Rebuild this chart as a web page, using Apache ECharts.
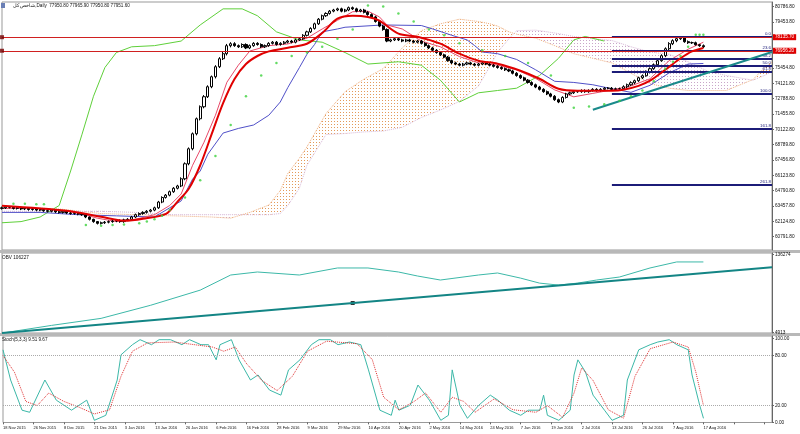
<!DOCTYPE html>
<html>
<head>
<meta charset="utf-8">
<script src="https://cdn.jsdelivr.net/npm/echarts@6/dist/echarts.min.js"></script>
<style>
html, body { margin: 0; padding: 0; background: #fff; }
#chart { width: 800px; height: 434px; }
</style>
</head>
<body>
<div id="chart"></div>
<script>
// bar index -> date label every 8 bars
const dateLabels = ['18 Nov 2015', '26 Nov 2015', '8 Dec 2015', '21 Dec 2015', '3 Jan 2016', '13 Jan 2016',
  '26 Jan 2016', '6 Feb 2016', '16 Feb 2016', '28 Feb 2016', '9 Mar 2016', '29 Mar 2016', '10 Apr 2016',
  '20 Apr 2016', '2 May 2016', '14 May 2016', '24 May 2016', '7 Jun 2016', '19 Jun 2016', '2 Jul 2016',
  '13 Jul 2016', '26 Jul 2016', '7 Aug 2016', '17 Aug 2016']
const priceTicks = [80786.8, 79453.8, 78120.8, 76787.8, 75454.8, 74121.8, 72788.8, 71455.8, 70122.8,
  68789.8, 67456.8, 66123.8, 64790.8, 63457.8, 62124.8, 60791.8]
const obvTicks = [136274, 4913]
const stochTicks = [100, 80, 20, 0]

// daily bars: open, close, low, high
const candles = [
  [63250, 63300, 63150, 63400], [63300, 63400, 63200, 63500], [63400, 63350, 63250, 63450], [63350, 63250, 63150, 63450],
  [63250, 63300, 63150, 63400], [63300, 63200, 63100, 63350], [63200, 63250, 63100, 63350], [63250, 63150, 63050, 63300],
  [63150, 63200, 63050, 63300], [63200, 63100, 63000, 63250], [63100, 63150, 63000, 63250], [63150, 63050, 62950, 63200],
  [63050, 63000, 62900, 63150], [63000, 63100, 62900, 63200], [63100, 62950, 62850, 63150], [62950, 62900, 62800, 63050],
  [62900, 63000, 62800, 63100], [63000, 62850, 62750, 63050], [62850, 62800, 62700, 62950], [62800, 62900, 62700, 63000],
  [62900, 62750, 62650, 62950], [62750, 62700, 62600, 62850], [62700, 62500, 62400, 62750], [62500, 62300, 62200, 62550],
  [62300, 62100, 62000, 62350], [62100, 61950, 61850, 62150], [61950, 62000, 61850, 62100], [62000, 62050, 61900, 62150],
  [62050, 62100, 61950, 62200], [62100, 62150, 62000, 62250], [62150, 62200, 62050, 62300], [62200, 62100, 62000, 62300],
  [62100, 62250, 62000, 62350], [62250, 62300, 62150, 62400], [62300, 62500, 62200, 62600], [62500, 62700, 62400, 62800],
  [62700, 62800, 62600, 62900], [62800, 62900, 62700, 63000], [62900, 63000, 62800, 63100], [63000, 63100, 62900, 63200],
  [63100, 63300, 63000, 63400], [63300, 63800, 63200, 63900], [63800, 64200, 63700, 64300], [64200, 64400, 64100, 64500],
  [64400, 64700, 64300, 64800], [64700, 65000, 64600, 65100], [65000, 65200, 64900, 65300], [65200, 65823, 65100, 65950],
  [65823, 67128, 65700, 67250], [67128, 68433, 67000, 68550], [68433, 69738, 68300, 69850], [69738, 71043, 69600, 71150],
  [71043, 72087, 70900, 72200], [72087, 72957, 71950, 73100], [72957, 73827, 72850, 73950], [73827, 74697, 73700, 74800],
  [74697, 75567, 74550, 75700], [75567, 76263, 75450, 76400], [76263, 76698, 76150, 76850], [76698, 77394, 76550, 77550],
  [77394, 77568, 77250, 77700], [77568, 77400, 77300, 77700], [77400, 77300, 77200, 77500], [77300, 77500, 77200, 77600],
  [77500, 77200, 77100, 77600], [77200, 77400, 77100, 77500], [77400, 77600, 77300, 77700], [77600, 77500, 77400, 77700],
  [77500, 77300, 77200, 77600], [77300, 77400, 77200, 77500], [77400, 77600, 77300, 77700], [77600, 77700, 77500, 77800],
  [77700, 77500, 77400, 77800], [77500, 77600, 77400, 77700], [77600, 77700, 77500, 77800], [77700, 77800, 77600, 77900],
  [77800, 77700, 77600, 77900], [77700, 77900, 77600, 78000], [77900, 78000, 77800, 78100], [78000, 78300, 77900, 78400],
  [78300, 78600, 78200, 78700], [78600, 78900, 78500, 79000], [78900, 79300, 78800, 79400], [79300, 79700, 79200, 79800],
  [79700, 80000, 79600, 80100], [80000, 80200, 79900, 80300], [80200, 80400, 80100, 80500], [80400, 80500, 80300, 80600],
  [80500, 80600, 80400, 80700], [80600, 80400, 80300, 80700], [80400, 80500, 80300, 80600], [80500, 80700, 80400, 80800],
  [80700, 80600, 80500, 80800], [80600, 80400, 80300, 80700], [80400, 80500, 80300, 80600], [80500, 80300, 80200, 80600],
  [80300, 80100, 80000, 80400], [80100, 79900, 79800, 80200], [79900, 79500, 79400, 80000], [79500, 79100, 79000, 79600],
  [79100, 78800, 78700, 79200], [78800, 77800, 77700, 78900], [77800, 77900, 77700, 78000], [77900, 78000, 77800, 78100],
  [78000, 77900, 77800, 78100], [77900, 77800, 77700, 78000], [77800, 77900, 77700, 78000], [77900, 77800, 77700, 78000],
  [77800, 77700, 77600, 77900], [77700, 77800, 77600, 77900], [77800, 77600, 77500, 77900], [77600, 77400, 77300, 77700],
  [77400, 77200, 77100, 77500], [77200, 77000, 76900, 77300], [77000, 76800, 76700, 77100], [76800, 76600, 76500, 76900],
  [76600, 76400, 76300, 76700], [76400, 76100, 76000, 76500], [76100, 75900, 75800, 76200], [75900, 75800, 75700, 76000],
  [75800, 75700, 75600, 75900], [75700, 75800, 75600, 75900], [75800, 75900, 75700, 76000], [75900, 75800, 75700, 76000],
  [75800, 75700, 75600, 75900], [75700, 75800, 75600, 75900], [75800, 75900, 75700, 76000], [75900, 75800, 75700, 76000],
  [75800, 75700, 75600, 75900], [75700, 75600, 75500, 75800], [75600, 75500, 75400, 75700], [75500, 75400, 75300, 75600],
  [75400, 75300, 75200, 75500], [75300, 75200, 75100, 75400], [75200, 75000, 74900, 75300], [75000, 74800, 74700, 75100],
  [74800, 74600, 74500, 74900], [74600, 74400, 74300, 74700], [74400, 74200, 74100, 74500], [74200, 74000, 73900, 74300],
  [74000, 73800, 73700, 74100], [73800, 73600, 73500, 73900], [73600, 73400, 73300, 73700], [73400, 73200, 73100, 73500],
  [73200, 73000, 72900, 73300], [73000, 72700, 72600, 73100], [72700, 72500, 72400, 72800], [72500, 72900, 72400, 73000],
  [72900, 73200, 72800, 73300], [73200, 73300, 73100, 73400], [73300, 73400, 73200, 73500], [73400, 73400, 73300, 73500],
  [73400, 73500, 73300, 73600], [73500, 73400, 73300, 73600], [73400, 73500, 73300, 73600], [73500, 73600, 73400, 73700],
  [73600, 73500, 73400, 73700], [73500, 73600, 73400, 73700], [73600, 73700, 73500, 73800], [73700, 73700, 73600, 73800],
  [73700, 73600, 73500, 73800], [73600, 73650, 73500, 73750], [73650, 73653, 73550, 73750], [73653, 73827, 73550, 73950],
  [73827, 74000, 73700, 74100], [74000, 74175, 73900, 74300], [74175, 74350, 74050, 74450], [74350, 74610, 74250, 74700],
  [74610, 74784, 74500, 74900], [74784, 75130, 74700, 75250], [75130, 75393, 75000, 75500], [75393, 75740, 75300, 75850],
  [75740, 76090, 75650, 76200], [76090, 76527, 76000, 76650], [76527, 77133, 76400, 77250], [77133, 77568, 77000, 77700],
  [77568, 77830, 77450, 77950], [77830, 78003, 77700, 78100], [78003, 78090, 77900, 78200], [78090, 77743, 77650, 78150],
  [77743, 77655, 77550, 77850], [77655, 77655, 77550, 77750], [77655, 77480, 77400, 77750], [77480, 77394, 77300, 77550],
  [77394, 77307, 77200, 77500]
]

const maLine = [[0, 63474], [17, 63039], [26, 62517], [32, 62169], [37, 62343], [43, 62778], [46, 63822],
  [49, 64953], [52, 67000], [55, 69700], [58, 72400], [61, 74500], [64, 75800], [67, 76500], [70, 76900],
  [75, 77220], [80, 77568], [84, 78500], [88, 79740], [92, 80000], [96, 79900], [99, 79570],
  [104, 78440], [109, 78180], [115, 77570], [120, 76700], [125, 76090], [130, 75830], [136, 75220], [141, 74520],
  [146, 73650], [151, 73480], [156, 73480], [160, 73480], [163, 73560], [167, 73900], [170, 74350],
  [174, 75300], [178, 76300], [181, 76900], [184, 77200]]
const tenkanLine = [[0, 63250], [10, 63250], [15, 63100], [20, 62850], [25, 62400], [30, 62100], [35, 62300],
  [40, 62700], [44, 63500], [47, 64500], [50, 67000], [53, 69000], [56, 71350], [59, 74220], [62, 75700],
  [65, 76930], [70, 77400], [75, 77550], [80, 78050], [84, 78850], [88, 79600], [92, 80350], [96, 80400],
  [99, 79900], [101, 79200], [105, 78850], [110, 77800], [115, 77300], [120, 76450], [125, 75900], [130, 75700],
  [135, 75300], [140, 74550], [145, 73550], [150, 72950], [155, 73250], [160, 73550], [165, 73900],
  [170, 74520], [175, 76090], [180, 77090], [184, 77700]]
const kijunLine = [[0, 62900], [10, 62900], [20, 62700], [30, 62600], [40, 62500], [44, 63300], [47, 63900],
  [50, 65800], [52, 66500], [54, 67960], [58, 69800], [62, 70200], [66, 70500], [70, 71350], [73, 72500],
  [75, 73770], [78, 75480], [80, 76650], [82, 77500], [84, 78600], [88, 78850], [90, 79000], [100, 79200],
  [110, 79150], [113, 78850], [118, 78300], [122, 77900], [124, 77400], [126, 76850], [130, 76700],
  [135, 76200], [140, 75300], [145, 74300], [150, 74200], [155, 74000], [160, 73650], [165, 73340],
  [170, 73950], [175, 75030], [180, 75800], [184, 75850]]
const chikouLine = [[0, 62000], [5, 62100], [10, 62500], [15, 63500], [18, 66500], [21, 69700], [24, 73000],
  [27, 75500], [30, 76800], [34, 77300], [40, 77400], [47, 77800], [52, 79200], [58, 80600], [63, 80600],
  [67, 80000], [72, 78600], [78, 77900], [84, 77700], [90, 76800], [96, 75800], [104, 76000], [110, 75700],
  [115, 74400], [120, 72500], [125, 73300], [130, 73500], [135, 73700], [141, 74800], [146, 76300],
  [150, 77900], [153, 78200], [158, 77800]]
const sarDots = [[3, 63650], [6, 63650], [9, 63600], [11, 63600], [22, 61800], [26, 61750], [29, 61800],
  [32, 61850], [36, 61950], [38, 62100], [40, 62300], [42, 62600], [44, 63100], [48, 64200], [52, 65700],
  [56, 67800], [60, 70500], [64, 73000], [68, 74800], [72, 75900], [76, 76500], [80, 76800], [84, 77300],
  [88, 78000], [92, 78800], [96, 80900], [100, 80800], [104, 80200], [108, 79500], [112, 78800], [116, 78300],
  [120, 77600], [126, 77000], [132, 76500], [138, 75900], [144, 74800], [150, 72000], [154, 72100],
  [158, 72300], [162, 72600], [165, 73000], [168, 73500], [171, 74300], [174, 75400], [176, 76000],
  [178, 76500], [180, 77300], [182, 78350], [183, 78350], [184, 78350]]

// cloud edges, shared bar positions
const cloudBars = [0, 15, 26, 35, 45, 55, 60, 65, 70, 73, 75, 78, 80, 85, 90, 95, 100, 105, 110, 115, 120,
  125, 128, 130, 133, 135, 140, 145, 150, 155, 160, 165, 170, 175, 180, 185, 190, 197, 200, 202]
const spanA = [63400, 63200, 62800, 62700, 62600, 62500, 62400, 62900, 63540, 64800, 66300, 67600, 68600,
  71500, 73400, 74500, 75400, 77200, 78700, 79300, 79700, 79500, 79300, 79100, 78600, 78400, 78050, 77400,
  76700, 76300, 75900, 75000, 74100, 73700, 73500, 73500, 73500, 74450, 75470, 75950]
const spanB = [63000, 63000, 63000, 62900, 62700, 62700, 62700, 62700, 62700, 62800, 63500, 65000, 67000,
  69670, 69760, 69900, 69975, 70300, 71150, 71800, 72550, 73900, 75600, 76830, 78000, 78700, 78750, 78500,
  78200, 78000, 77850, 77300, 76850, 76650, 76000, 75200, 74800, 74400, 74800, 75165]

const obvLine = [[0, 3500], [13, 16600], [26, 28500], [39, 50700], [52, 76300], [60, 101900], [67, 107000], [78, 101900],
  [88, 113800], [96, 113800], [104, 107000], [109, 100200], [115, 93400], [125, 101900], [130, 105300], [136, 96700],
  [141, 88200], [146, 84800], [151, 88200], [156, 93400], [162, 98500], [170, 113800], [177, 124000], [184, 124000]]
const obvTrend = [[0, 3728], [202, 114945]]
const obvAnchor = [[92, 54513]]

const stochK = [[0, 86.7], [2, 50.6], [5, 14.5], [7, 12.0], [11, 50.6], [14, 26.5], [18, 14.5], [22, 26.5], [24, 2.4],
  [27, 8.4], [30, 50.6], [31, 80.7], [34, 92.8], [36, 98.8], [39, 92.8], [41, 98.8], [44, 98.8], [47, 92.8], [49, 98.8],
  [52, 92.8], [54, 92.8], [56, 74.7], [57, 92.8], [60, 98.8], [62, 74.7], [65, 50.6], [67, 56.6], [70, 38.6], [73, 32.5],
  [75, 62.7], [78, 74.7], [81, 92.8], [83, 98.8], [86, 98.8], [88, 92.8], [91, 96.0], [94, 92.8], [96, 62.7], [99, 14.5],
  [102, 8.4], [103, 26.5], [104, 14.5], [107, 20.5], [109, 44.6], [112, 26.5], [115, 2.4], [117, 8.4], [118, 62.7],
  [120, 20.5], [122, 4.8], [125, 20.5], [128, 32.5], [130, 26.5], [133, 14.5], [136, 8.4], [138, 14.5], [141, 14.5],
  [142, 32.5], [143, 8.4], [146, 2.4], [149, 14.5], [150, 56.6], [151, 74.7], [153, 60.2], [155, 32.5], [158, 14.5],
  [160, 2.4], [163, 8.4], [164, 50.6], [167, 86.7], [170, 92.8], [172, 96.0], [175, 98.8], [177, 92.8], [180, 86.7],
  [181, 56.6], [183, 20.5], [184, 4.8]]
const stochD = [[0, 80], [3, 60], [6, 25], [9, 20], [12, 35], [16, 25], [20, 18], [24, 10], [28, 15], [31, 55],
  [34, 85], [38, 95], [45, 96], [55, 90], [58, 85], [61, 90], [64, 70], [68, 50], [72, 38], [76, 55], [80, 85],
  [85, 97], [93, 94], [97, 75], [100, 30], [104, 15], [108, 25], [111, 35], [115, 12], [118, 30], [121, 25],
  [124, 12], [129, 28], [134, 15], [140, 12], [143, 20], [147, 6], [150, 35], [152, 65], [155, 50], [159, 15],
  [163, 5], [166, 55], [170, 88], [176, 96], [180, 90], [182, 60], [184, 20]]

// MT4 drawn objects
const redLevels = [78135.7, 76956.2]
const fibRatios = ['0.0', '23.6', '38.2', '50.0', '61.8', '100.0', '161.8', '261.8']
const fibPrices = [78143.5, 76987, 76265, 75683, 75109, 73231, 70196, 65284]
const fibStart = 160
const priceTrend = [[155, 71822], [202, 76848]]

const N = 203
const cats = Array.from({ length: N }, (_, i) => String(i))

function dotPattern(color) {
  const cv = document.createElement('canvas')
  cv.width = 3
  cv.height = 3
  const ctx = cv.getContext('2d')
  ctx.fillStyle = color
  ctx.fillRect(1, 1, 1, 1)
  return { image: cv, repeat: 'repeat' }
}

// polygon between span A and span B for bars in [from, to]
function cloudPolygon(api, from, to) {
  const idx = cloudBars.map((b, k) => k).filter(k => cloudBars[k] >= from && cloudBars[k] <= to)
  const top = idx.map(k => api.coord([cloudBars[k], spanA[k]]))
  const bot = idx.slice().reverse().map(k => api.coord([cloudBars[k], spanB[k]]))
  return top.concat(bot)
}

const chart = echarts.init(document.getElementById('chart'), null, { renderer: 'canvas' })

const axisFont = { fontFamily: 'Liberation Sans', fontSize: 4.7, color: '#111' }

function catAxis(gridIndex, showLabels) {
  return {
    type: 'category', gridIndex, data: cats, boundaryGap: false,
    axisLine: { show: false },
    axisTick: showLabels ? { show: true, interval: 7, length: 2, lineStyle: { color: '#666' } } : { show: false },
    splitLine: { show: false },
    axisLabel: showLabels ? {
      ...axisFont, fontSize: 4, interval: 7, align: 'left', margin: 3, showMinLabel: true, hideOverlap: false,
      formatter: (v, idx) => dateLabels[idx / 8] || ''
    } : { show: false }
  }
}

function valAxis(gridIndex, min, max, ticks, fmt) {
  return {
    type: 'value', gridIndex, position: 'right', min, max, scale: true,
    axisLine: { show: true, lineStyle: { color: '#666' } },
    axisTick: { show: true, customValues: ticks, length: 2, lineStyle: { color: '#666' } },
    axisLabel: { ...axisFont, customValues: ticks, margin: 3, formatter: fmt },
    splitLine: { show: false }
  }
}

const fibLines = fibPrices.map((p, k) => [
  { coord: [fibStart, p], label: { formatter: fibRatios[k] } },
  { coord: [N - 1, p] }
])

const option = {
  animation: false,
  backgroundColor: '#fff',
  grid: [
    { left: 2, right: 28, top: 2, height: 248, show: true, borderColor: '#999', borderWidth: 1 },
    { left: 2, right: 28, top: 253, height: 80, show: true, borderColor: '#999', borderWidth: 1 },
    { left: 2, right: 28, top: 336, height: 86.5, show: true, borderColor: '#999', borderWidth: 1 }
  ],
  xAxis: [catAxis(0, false), catAxis(1, false), catAxis(2, true)],
  yAxis: [
    valAxis(0, 59631, 81195.5, priceTicks, v => v.toFixed(2)),
    valAxis(1, 3728, 139152, obvTicks, v => String(v)),
    valAxis(2, -0.2, 103.2, stochTicks, v => v.toFixed(2))
  ],
  graphic: [
    { type: 'rect', shape: { x: 0, y: 250, width: 800, height: 3 }, style: { fill: '#b8b8b8' }, silent: true },
    { type: 'rect', shape: { x: 0, y: 333, width: 800, height: 3 }, style: { fill: '#b8b8b8' }, silent: true },
    { type: 'rect', shape: { x: 1, y: 3, width: 4, height: 5 }, style: { fill: '#6a7fb5' } },
    { type: 'text', left: 13, top: 3.5, style: { text: 'شاخص کل,Daily  77950.80 77965.90 77950.80 77951.60', font: '4.6px Liberation Sans', fill: '#111' } },
    { type: 'text', left: 2, top: 255, style: { text: 'OBV 106227', font: '4.7px Liberation Sans', fill: '#111' } },
    { type: 'text', left: 2, top: 337.5, style: { text: 'Stoch(5,3,3) 9.51 9.67', font: '4.6px Liberation Sans', fill: '#111' } }
  ],
  series: [
    {
      type: 'custom', xAxisIndex: 0, yAxisIndex: 0, z: 1, silent: true,
      data: [0],
      renderItem: (params, api) => ({
        type: 'group',
        children: [
          { type: 'polygon', shape: { points: cloudPolygon(api, 0, 60) }, style: { fill: dotPattern('#c9a6c9') } },
          { type: 'polygon', shape: { points: cloudPolygon(api, 60, 135) }, style: { fill: dotPattern('#e39a5a') } },
          { type: 'polygon', shape: { points: cloudPolygon(api, 135, 197) }, style: { fill: dotPattern('#c9a6c9') } },
          { type: 'polygon', shape: { points: cloudPolygon(api, 197, 202) }, style: { fill: dotPattern('#e39a5a') } }
        ]
      })
    },
    {
      type: 'line', data: cloudBars.map((b, k) => [b, spanA[k]]), xAxisIndex: 0, yAxisIndex: 0, symbol: 'none', z: 2,
      lineStyle: { color: '#f0b080', width: 1, type: 'dotted' }
    },
    {
      type: 'line', data: cloudBars.map((b, k) => [b, spanB[k]]), xAxisIndex: 0, yAxisIndex: 0, symbol: 'none', z: 2,
      lineStyle: { color: '#d8b8d8', width: 1, type: 'dotted' }
    },
    {
      type: 'line', data: chikouLine, xAxisIndex: 0, yAxisIndex: 0, symbol: 'none', z: 3,
      lineStyle: { color: '#5fd03a', width: 1 }
    },
    {
      type: 'line', data: kijunLine, xAxisIndex: 0, yAxisIndex: 0, symbol: 'none', z: 3,
      lineStyle: { color: '#5050c8', width: 1 }
    },
    {
      type: 'line', data: tenkanLine, xAxisIndex: 0, yAxisIndex: 0, symbol: 'none', z: 3,
      lineStyle: { color: '#e84a6a', width: 1 }
    },
    {
      type: 'candlestick', data: candles, xAxisIndex: 0, yAxisIndex: 0, barWidth: 2.6, z: 4,
      itemStyle: { color: '#fff', color0: '#000', borderColor: '#000', borderColor0: '#000', borderWidth: 1 }
    },
    {
      type: 'line', data: maLine, xAxisIndex: 0, yAxisIndex: 0, symbol: 'none', smooth: 0.3, z: 5,
      lineStyle: { color: '#e00000', width: 2 }
    },
    {
      type: 'scatter', data: sarDots, xAxisIndex: 0, yAxisIndex: 0, symbolSize: 2.5, z: 6,
      itemStyle: { color: '#3cd23c' }
    },
    {
      type: 'line', data: priceTrend, xAxisIndex: 0, yAxisIndex: 0, symbol: 'none', z: 6,
      lineStyle: { color: '#1a8a8a', width: 2 },
      markLine: {
        silent: true, symbol: 'none', animation: false,
        lineStyle: { color: '#1c1c78', width: 2, type: 'solid' },
        label: { position: 'insideEndTop', fontSize: 4.4, fontFamily: 'Liberation Sans', color: '#1c1c78', distance: 1 },
        data: fibLines
      }
    },
    {
      type: 'scatter', data: redLevels.map(v => [0, v]), xAxisIndex: 0, yAxisIndex: 0, z: 8,
      symbol: 'rect', symbolSize: 4, itemStyle: { color: '#700' },
      markLine: {
        silent: true, symbol: 'none', animation: false,
        lineStyle: { color: '#d02020', width: 1.2, type: 'solid' },
        label: {
          position: 'end', distance: 1, fontSize: 4.6, fontFamily: 'Liberation Sans', color: '#fff',
          backgroundColor: '#e00000', padding: [0.5, 2],
          formatter: p => p.value.toFixed(2)
        },
        data: redLevels.map(v => ({ yAxis: v }))
      }
    },
    {
      type: 'line', data: obvLine, xAxisIndex: 1, yAxisIndex: 1, symbol: 'none',
      lineStyle: { color: '#3cb8a8', width: 1 }
    },
    {
      type: 'line', data: obvTrend, xAxisIndex: 1, yAxisIndex: 1, symbol: 'none',
      lineStyle: { color: '#138585', width: 2 }
    },
    {
      type: 'scatter', data: obvAnchor, xAxisIndex: 1, yAxisIndex: 1, symbol: 'rect', symbolSize: 4,
      itemStyle: { color: '#000' }
    },
    {
      type: 'line', data: stochK, xAxisIndex: 2, yAxisIndex: 2, symbol: 'none',
      lineStyle: { color: '#3cb8a8', width: 1 },
      markLine: {
        silent: true, symbol: 'none', label: { show: false },
        lineStyle: { color: '#aaa', width: 1, type: 'dotted' },
        data: [{ yAxis: 80 }, { yAxis: 20 }]
      }
    },
    {
      type: 'line', data: stochD, xAxisIndex: 2, yAxisIndex: 2, symbol: 'none',
      lineStyle: { color: '#e03030', width: 1, type: 'dotted' }
    }
  ]
}

chart.setOption(option)
</script>
</body>
</html>
